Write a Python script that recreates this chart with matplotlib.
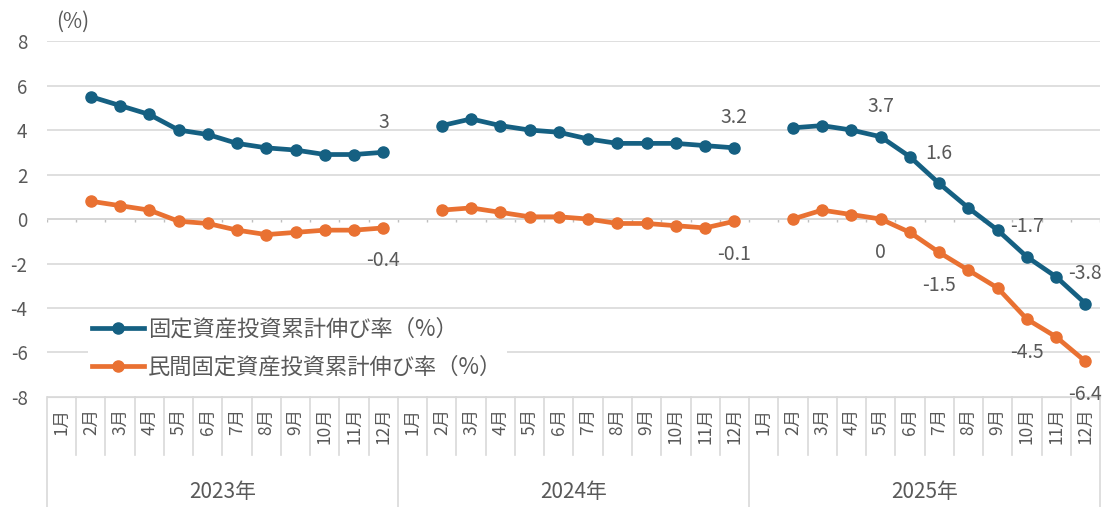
import numpy as np
import matplotlib
matplotlib.use("Agg")
import matplotlib.pyplot as plt
import matplotlib.transforms as mtransforms

plt.rcParams['font.family'] = ['Noto Sans CJK JP', 'DejaVu Sans']
plt.rcParams['axes.unicode_minus'] = False

years = ["2023年", "2024年", "2025年"]
months = [f"{m}月" for m in range(1, 13)]

nan = np.nan
fixed_2023 = [nan, 5.5, 5.1, 4.7, 4.0, 3.8, 3.4, 3.2, 3.1, 2.9, 2.9, 3.0]
fixed_2024 = [nan, 4.2, 4.5, 4.2, 4.0, 3.9, 3.6, 3.4, 3.4, 3.4, 3.3, 3.2]
fixed_2025 = [nan, 4.1, 4.2, 4.0, 3.7, 2.8, 1.6, 0.5, -0.5, -1.7, -2.6, -3.8]
private_2023 = [nan, 0.8, 0.6, 0.4, -0.1, -0.2, -0.5, -0.7, -0.6, -0.5, -0.5, -0.4]
private_2024 = [nan, 0.4, 0.5, 0.3, 0.1, 0.1, 0.0, -0.2, -0.2, -0.3, -0.4, -0.1]
private_2025 = [nan, 0.0, 0.4, 0.2, 0.0, -0.6, -1.5, -2.3, -3.1, -4.5, -5.3, -6.4]

fixed_labels = {11: "3", 23: "3.2", 28: "3.7", 30: "1.6", 33: "-1.7", 35: "-3.8"}
private_labels = {11: "-0.4", 23: "-0.1", 28: "0", 30: "-1.5", 33: "-4.5", 35: "-6.4"}

fixed_name = "固定資産投資累計伸び率（%）"
private_name = "民間固定資産投資累計伸び率（%）"

BLUE = "#156082"
ORANGE = "#E97132"
TEXT = "#595959"
GRID = "#d9d9d9"

n = len(years) * len(months)
x = np.arange(n)

fig = plt.figure(figsize=(11.05, 5.07), dpi=100)
ax = fig.add_axes([0.0425, 0.217, 0.953, 0.702])

for k, (fv, pv) in enumerate(zip([fixed_2023, fixed_2024, fixed_2025],
                                 [private_2023, private_2024, private_2025])):
    xs = x[k * 12:(k + 1) * 12]
    ax.plot(xs, fv, color=BLUE, lw=3.4, marker='o', ms=8, zorder=3,
            label=fixed_name if k == 0 else None)
    ax.plot(xs, pv, color=ORANGE, lw=3.4, marker='o', ms=8, zorder=3,
            label=private_name if k == 0 else None)

fixed_all = fixed_2023 + fixed_2024 + fixed_2025
private_all = private_2023 + private_2024 + private_2025
for i, s in fixed_labels.items():
    ax.annotate(s, (x[i], fixed_all[i]), xytext=(0, 30), textcoords='offset pixels',
                ha='center', va='center', fontsize=14, color=TEXT)
for i, s in private_labels.items():
    ax.annotate(s, (x[i], private_all[i]), xytext=(0, -33), textcoords='offset pixels',
                ha='center', va='center', fontsize=14, color=TEXT, annotation_clip=False)

ax.set_xlim(-0.5, n - 0.5)
ax.set_ylim(-8, 8)
ax.set_yticks(np.arange(-8, 9, 2))
ax.tick_params(axis='y', length=0, pad=14, labelsize=13.5, labelcolor=TEXT)
ax.set_xticks([])
for s in ['top', 'right', 'left']:
    ax.spines[s].set_visible(False)
ax.spines['bottom'].set_color(GRID)
ax.grid(axis='y', color=GRID, lw=1.2, zorder=0)

# category axis line at 0 with small ticks
ax.axhline(0, color="#bfbfbf", lw=1.2, zorder=1)
ax.vlines(np.arange(n + 1) - 0.5, -0.15, 0, color="#bfbfbf", lw=1, zorder=1)

# (%) unit label
ax.text(0.009, 1.055, "(%)", transform=ax.transAxes, fontsize=15, color=TEXT,
        ha='left', va='center')

# category table below the plot
trans = mtransforms.blended_transform_factory(ax.transData, ax.transAxes)
month_bottom = -0.163
year_bottom = -0.31
for b in np.arange(n + 1) - 0.5:
    edge = (b + 0.5) % 12 == 0
    ax.plot([b, b], [0, year_bottom if edge else month_bottom], transform=trans,
            color=GRID, lw=1.2, clip_on=False)
for i in range(n):
    ax.text(x[i], -0.03, months[i % 12], transform=trans, rotation=90,
            ha='center', va='top', fontsize=12.5, color=TEXT)
for k, y in enumerate(years):
    ax.text(k * 12 + 5.5, -0.267, y, transform=trans, ha='center', va='center',
            fontsize=15, color=TEXT)

leg = ax.legend(loc='upper left', bbox_to_anchor=(0.039, 0.236), fontsize=16,
                frameon=True, handlelength=2.3, handletextpad=0.2, labelspacing=0.7,
                borderpad=0.2, borderaxespad=0)
leg.get_frame().set_facecolor('white')
leg.get_frame().set_edgecolor('none')
leg.get_frame().set_alpha(1)
for t in leg.get_texts():
    t.set_color(TEXT)

fig.savefig("out.png", dpi=100)
